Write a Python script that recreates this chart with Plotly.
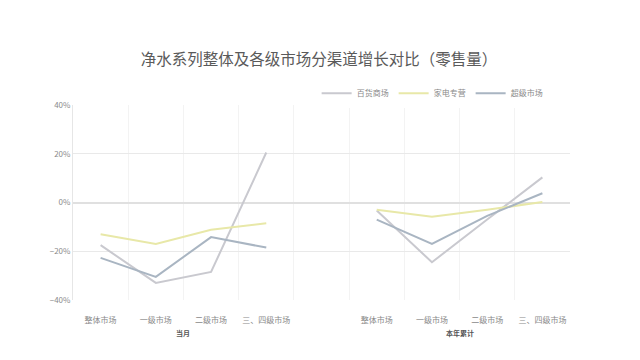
import plotly.graph_objects as go

categories = ["整体市场", "一级市场", "二级市场", "三、四级市场", "", "整体市场", "一级市场", "二级市场", "三、四级市场"]
groups = ["当月", "本年累计"]
series_names = ["百货商场", "家电专营", "超级市场"]
baihuo = [-17.5, -33, -28.5, 20.5, None, -3.3, -24.5, -7, 10.3]
jiadian = [-13, -17, -11.2, -8.5, None, -3, -5.8, -3, 0.2]
chaoshi = [-22.7, -30.5, -14.2, -18.5, None, -7, -17, -5.5, 3.8]
colors = ["#c9c9cf", "#e8e8a8", "#a9b5c2"]

xpos = list(range(len(categories)))
fig = go.Figure()
for name, vals, c in zip(series_names, [baihuo, jiadian, chaoshi], colors):
    fig.add_trace(go.Scatter(x=xpos, y=[v / 100 if v is not None else None for v in vals],
                             mode="lines", name=name, connectgaps=False,
                             line=dict(color=c, width=2)))

font = "Noto Sans CJK SC, sans-serif"
fig.update_layout(
    width=640, height=360,
    paper_bgcolor="white", plot_bgcolor="white",
    margin=dict(l=65, r=78, t=97, b=68, autoexpand=False),
    title=dict(text="净水系列整体及各级市场分渠道增长对比（零售量）", x=0.486, xanchor="center",
               y=0.856, yanchor="middle",
               font=dict(family=font, size=15.5, color="#5a5a5a")),
    font=dict(family=font, color="#8a8a8a", size=8),
    legend=dict(orientation="h", x=0.955, xanchor="right", y=1.06, yanchor="middle",
                font=dict(size=8, color="#8a8a8a"), itemwidth=30, tracegroupgap=0),
    showlegend=True,
)
fig.update_xaxes(range=[-0.5, 8.5], tickvals=xpos, ticktext=categories, showgrid=False,
                 zeroline=False, showline=False, ticks="", ticklabelstandoff=14,
                 tickfont=dict(size=8, color="#8a8a8a"),
                 minor=dict(tickvals=[i + 0.5 for i in range(-1, 9)], showgrid=True,
                            gridcolor="#f3f3f3", gridwidth=1))
fig.update_yaxes(range=[-0.4, 0.4], dtick=0.2, tickformat=".0%", showgrid=True,
                 gridcolor="#e9e9e9", zeroline=True, zerolinecolor="#e0e0e0",
                 showline=True, linecolor="#e6e6e6", ticks="",
                 tickfont=dict(size=8, color="#8a8a8a"))
for gx, g in zip([1.5, 6.5], groups):
    fig.add_annotation(x=gx, y=-0.205, xref="x", yref="paper", text="<b>" + g + "</b>",
                       showarrow=False, font=dict(size=7, color="#555555", family=font))
fig.write_html("out.html")
